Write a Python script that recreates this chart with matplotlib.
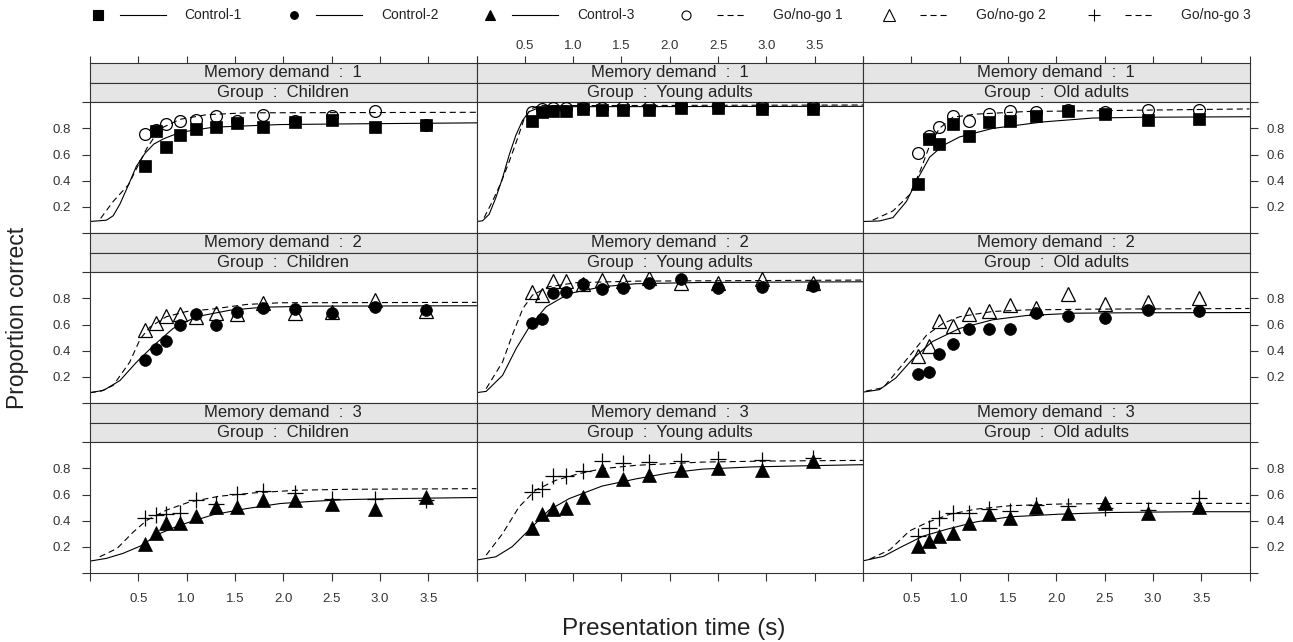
import numpy as np
import matplotlib
matplotlib.use("Agg")
import matplotlib.pyplot as plt

plt.rcParams["font.family"] = ["Liberation Sans", "DejaVu Sans"]

# presentation times (s), same for every condition
time_s = [0.57, 0.68, 0.79, 0.93, 1.10, 1.30, 1.52, 1.79, 2.12, 2.50, 2.95, 3.48]

groups = ["Children", "Young adults", "Old adults"]
demands = [1, 2, 3]
legend_labels = ["Control-1", "Control-2", "Control-3", "Go/no-go 1", "Go/no-go 2", "Go/no-go 3"]

# observed proportion correct, one list per group (children, young, old)
control_1 = [
    [0.515, 0.783, 0.659, 0.753, 0.798, 0.810, 0.843, 0.813, 0.851, 0.864, 0.813, 0.826],
    [0.861, 0.929, 0.937, 0.937, 0.949, 0.944, 0.944, 0.944, 0.957, 0.957, 0.949, 0.949],
    [0.374, 0.720, 0.684, 0.836, 0.745, 0.851, 0.861, 0.899, 0.937, 0.912, 0.864, 0.876],
]
gonogo_1 = [
    [0.758, 0.790, 0.833, 0.859, 0.866, 0.899, 0.860, 0.904, 0.860, 0.899, 0.934, 0.830],
    [0.930, 0.950, 0.960, 0.960, 0.960, 0.960, 0.965, 0.965, 0.970, 0.970, 0.965, 0.965],
    [0.614, 0.740, 0.811, 0.894, 0.861, 0.910, 0.937, 0.930, 0.940, 0.930, 0.944, 0.944],
]
control_2 = [
    [0.326, 0.410, 0.474, 0.595, 0.679, 0.595, 0.697, 0.723, 0.718, 0.692, 0.736, 0.710],
    [0.613, 0.641, 0.844, 0.846, 0.908, 0.869, 0.882, 0.921, 0.949, 0.877, 0.887, 0.897],
    [0.221, 0.234, 0.374, 0.450, 0.565, 0.565, 0.565, 0.687, 0.669, 0.649, 0.715, 0.705],
]
gonogo_2 = [
    [0.556, 0.608, 0.667, 0.677, 0.659, 0.685, 0.677, 0.762, 0.685, 0.697, 0.792, 0.703],
    [0.851, 0.826, 0.936, 0.933, 0.908, 0.941, 0.933, 0.954, 0.921, 0.921, 0.949, 0.921],
    [0.356, 0.433, 0.628, 0.585, 0.679, 0.700, 0.746, 0.730, 0.837, 0.756, 0.771, 0.800],
]
control_3 = [
    [0.217, 0.306, 0.378, 0.378, 0.436, 0.505, 0.505, 0.561, 0.556, 0.531, 0.487, 0.582],
    [0.344, 0.454, 0.487, 0.500, 0.582, 0.786, 0.717, 0.747, 0.791, 0.804, 0.791, 0.857],
    [0.208, 0.242, 0.280, 0.306, 0.379, 0.449, 0.418, 0.506, 0.462, 0.532, 0.462, 0.501],
]
gonogo_3 = [
    [0.416, 0.441, 0.454, 0.459, 0.561, 0.528, 0.607, 0.628, 0.612, 0.566, 0.566, 0.556],
    [0.620, 0.645, 0.740, 0.740, 0.780, 0.857, 0.842, 0.850, 0.855, 0.875, 0.862, 0.883],
    [0.281, 0.345, 0.423, 0.462, 0.462, 0.488, 0.475, 0.520, 0.514, 0.500, 0.483, 0.571],
]

# model fits
fit_x_control_1 = [
    [0, 0.17, 0.24, 0.31, 0.40, 0.48, 0.57, 0.66, 0.76, 0.93, 1.28, 1.97, 2.66, 4.0],
    [0, 0.062, 0.131, 0.20, 0.269, 0.338, 0.407, 0.476, 0.545, 0.648, 0.821, 4.0],
    [0, 0.17, 0.31, 0.45, 0.57, 0.69, 0.83, 1.00, 1.34, 1.86, 2.38, 2.90, 4.0],
]
fit_y_control_1 = [
    [0.086, 0.096, 0.13, 0.22, 0.37, 0.51, 0.61, 0.68, 0.72, 0.77, 0.81, 0.83, 0.835, 0.843],
    [0.086, 0.091, 0.141, 0.268, 0.419, 0.596, 0.747, 0.861, 0.929, 0.960, 0.967, 0.970],
    [0.086, 0.090, 0.116, 0.24, 0.42, 0.58, 0.67, 0.735, 0.80, 0.85, 0.88, 0.886, 0.89],
]
fit_x_gonogo_1 = [
    [0.11, 0.24, 0.40, 0.50, 0.59, 0.68, 0.76, 0.93, 1.21, 1.62, 4.0],
    [0.079, 0.166, 0.252, 0.338, 0.424, 0.493, 0.562, 0.648, 4.0],
    [0.10, 0.31, 0.48, 0.59, 0.69, 0.79, 0.93, 1.17, 1.69, 4.0],
]
fit_y_gonogo_1 = [
    [0.11, 0.24, 0.37, 0.52, 0.65, 0.75, 0.81, 0.87, 0.906, 0.92, 0.924],
    [0.116, 0.242, 0.381, 0.545, 0.722, 0.874, 0.949, 0.975, 0.98],
    [0.096, 0.167, 0.29, 0.47, 0.67, 0.80, 0.886, 0.91, 0.93, 0.95],
]
fit_x_control_2 = [
    [0, 0.14, 0.31, 0.48, 0.66, 0.86, 1.10, 1.45, 1.79, 2.31, 4.0],
    [0, 0.10, 0.27, 0.41, 0.545, 0.72, 0.96, 1.30, 1.65, 2.34, 4.0],
    [0, 0.17, 0.34, 0.52, 0.72, 1.00, 1.34, 1.69, 2.20, 2.72, 4.0],
]
fit_y_control_2 = [
    [0.077, 0.095, 0.17, 0.31, 0.44, 0.57, 0.66, 0.71, 0.733, 0.741, 0.744],
    [0.077, 0.087, 0.21, 0.415, 0.58, 0.736, 0.838, 0.89, 0.913, 0.923, 0.928],
    [0.081, 0.10, 0.19, 0.34, 0.47, 0.57, 0.636, 0.669, 0.687, 0.69, 0.692],
]
fit_x_gonogo_2 = [
    [0, 0.12, 0.24, 0.41, 0.52, 0.62, 0.79, 1.00, 1.28, 1.62, 1.97, 4.0],
    [0.10, 0.27, 0.37, 0.48, 0.58, 0.75, 1.03, 1.65, 4.0],
    [0.03, 0.21, 0.38, 0.52, 0.66, 0.83, 1.00, 1.34, 1.69, 2.38, 4.0],
]
fit_y_gonogo_2 = [
    [0.077, 0.09, 0.133, 0.31, 0.49, 0.58, 0.66, 0.70, 0.72, 0.754, 0.767, 0.77],
    [0.108, 0.313, 0.518, 0.723, 0.826, 0.89, 0.921, 0.933, 0.941],
    [0.089, 0.115, 0.267, 0.394, 0.52, 0.61, 0.66, 0.70, 0.712, 0.718, 0.723],
]
fit_x_control_3 = [
    [0, 0.17, 0.34, 0.52, 0.72, 0.93, 1.28, 1.62, 1.97, 2.31, 2.66, 3.17, 4.0],
    [0, 0.20, 0.37, 0.56, 0.75, 0.96, 1.30, 1.65, 1.99, 2.34, 2.86, 3.37, 4.0],
    [0, 0.21, 0.41, 0.62, 0.86, 1.17, 1.52, 2.03, 2.55, 3.41, 4.0],
]
fit_y_control_3 = [
    [0.089, 0.11, 0.148, 0.204, 0.30, 0.365, 0.446, 0.492, 0.531, 0.548, 0.561, 0.569, 0.577],
    [0.097, 0.122, 0.20, 0.34, 0.48, 0.569, 0.665, 0.72, 0.765, 0.795, 0.812, 0.82, 0.829],
    [0.091, 0.125, 0.203, 0.28, 0.332, 0.39, 0.429, 0.449, 0.462, 0.468, 0.468],
]
fit_x_gonogo_3 = [
    [0.10, 0.28, 0.45, 0.59, 0.79, 1.03, 1.34, 1.69, 2.14, 2.66, 4.0],
    [0.10, 0.27, 0.44, 0.61, 0.82, 1.06, 1.30, 1.65, 2.34, 3.03, 4.0],
    [0.07, 0.28, 0.48, 0.66, 0.90, 1.17, 1.52, 2.03, 2.72, 4.0],
]
fit_y_gonogo_3 = [
    [0.122, 0.186, 0.314, 0.403, 0.48, 0.543, 0.587, 0.612, 0.633, 0.64, 0.645],
    [0.135, 0.30, 0.505, 0.633, 0.709, 0.76, 0.798, 0.824, 0.849, 0.857, 0.862],
    [0.104, 0.177, 0.32, 0.384, 0.449, 0.488, 0.514, 0.527, 0.532, 0.532],
]

control_obs = [control_1, control_2, control_3]
gonogo_obs = [gonogo_1, gonogo_2, gonogo_3]
control_fit = [(fit_x_control_1, fit_y_control_1), (fit_x_control_2, fit_y_control_2),
               (fit_x_control_3, fit_y_control_3)]
gonogo_fit = [(fit_x_gonogo_1, fit_y_gonogo_1), (fit_x_gonogo_2, fit_y_gonogo_2),
              (fit_x_gonogo_3, fit_y_gonogo_3)]

# marker styles: (marker, filled, size)
control_style = [("s", True, 9), ("o", True, 8.5), ("^", True, 10)]
gonogo_style = [("o", False, 8.5), ("^", False, 10.5), ("+", False, 11)]
DASH = (0, (5.5, 3.5))

W, H = 1293, 642
fig = plt.figure(figsize=(W / 100, H / 100), dpi=100)


def box(x0, y0, w, h):
    return [x0 / W, 1 - (y0 + h) / H, w / W, h / H]


TXT = "#222222"
TICK = "#333333"
xt = np.arange(0, 4.01, 0.5)
xt_lab = [""] + [f"{v:.1f}" for v in xt[1:-1]] + [""]
yt = np.arange(0, 1.01, 0.2)
yt_lab = [""] + [f"{v:.1f}" for v in yt[1:-1]] + [""]

left0, col_w = 90, 386.5
top0, strip_h, plot_h, row_h = 62.8, 19.8, 130.3, 170

for r, dem in enumerate(demands):
    for c, grp in enumerate(groups):
        x0 = left0 + c * col_w
        ys = top0 + r * row_h
        # two strips above each panel
        for k, lab in enumerate([f"Memory demand  :  {dem}", f"Group  :  {grp}"]):
            sa = fig.add_axes(box(x0, ys + k * strip_h, col_w, strip_h))
            sa.set_facecolor("#e5e5e5")
            sa.set_xlim(0, 4)
            sa.set_ylim(0, 1)
            sa.set_yticks([])
            for sp in sa.spines.values():
                sp.set_linewidth(0.8)
                sp.set_color(TICK)
            sa.text(0.5, 0.5, lab, transform=sa.transAxes, ha="center", va="center",
                    fontsize=12, color=TXT)
            if r == 0 and k == 0:
                sa.xaxis.tick_top()
                sa.set_xticks(xt)
                sa.set_xticklabels(xt_lab if c == 1 else [""] * len(xt))
                sa.tick_params(axis="x", direction="out", length=5, width=0.8, color=TICK,
                               labelsize=9.5, labelcolor=TICK, pad=3)
            else:
                sa.set_xticks([])

        ax = fig.add_axes(box(x0, ys + 2 * strip_h, col_w, plot_h))
        ax.set_xlim(0, 4)
        ax.set_ylim(0, 1)
        for sp in ax.spines.values():
            sp.set_linewidth(0.8)
            sp.set_color(TICK)

        gx, gy = gonogo_fit[r]
        cx, cy = control_fit[r]
        ax.plot(gx[c], gy[c], color="black", lw=0.8, ls=DASH, zorder=2)
        ax.plot(cx[c], cy[c], color="black", lw=0.8, zorder=2)

        gm, _, gs = gonogo_style[r]
        ax.plot(time_s, gonogo_obs[r][c], ls="none", marker=gm, ms=gs, mfc="none",
                mec="black", mew=0.9, zorder=3)
        cm, _, cs = control_style[r]
        ax.plot(time_s, control_obs[r][c], ls="none", marker=cm, ms=cs, mfc="black",
                mec="black", mew=0.5, zorder=4)

        tp = dict(direction="out", length=5.5, width=0.8, color=TICK,
                  labelsize=9.5, labelcolor=TICK)
        if c == 0:
            ax.set_yticks(yt)
            ax.set_yticklabels(yt_lab)
            ax.tick_params(axis="y", pad=8, **tp)
        elif c == 2:
            ax.yaxis.tick_right()
            ax.set_yticks(yt)
            ax.set_yticklabels(yt_lab)
            ax.tick_params(axis="y", pad=7, **tp)
        else:
            ax.set_yticks([])
        if r == 2:
            ax.set_xticks(xt)
            ax.set_xticklabels(xt_lab if c != 1 else [""] * len(xt))
            ax.tick_params(axis="x", pad=9, **tp)
        else:
            ax.set_xticks([])

# legend across the top
leg = fig.add_axes([0, 0, 1, 1])
leg.set_xlim(0, W)
leg.set_ylim(H, 0)
leg.axis("off")
leg_x = [97.5, 294, 490, 686, 889, 1094]
leg_styles = control_style + gonogo_style
leg_ms = [7, 5.5, 7, 6.5, 8, 9]
for i, lab in enumerate(legend_labels):
    mx = leg_x[i]
    m, filled, _ = leg_styles[i]
    leg.plot([mx], [15], marker=m, ms=leg_ms[i], ls="none",
             mfc="black" if filled else "none", mec="black", mew=0.8)
    if i < 3:
        leg.plot([mx + 22, mx + 68], [15, 15], color="black", lw=0.8)
    else:
        leg.plot([mx + 31, mx + 61], [15, 15], color="black", lw=0.8, ls=DASH)
    leg.text(mx + 87, 15, lab, ha="left", va="center", fontsize=10, color=TXT)

fig.text(674 / W, 1 - 629 / H, "Presentation time (s)", ha="center", va="center",
         fontsize=17.5, color=TXT)
fig.text(18 / W, 1 - 318 / H, "Proportion correct", ha="center", va="center",
         rotation=90, fontsize=16.5, color=TXT)

fig.savefig("out.png", dpi=100)
